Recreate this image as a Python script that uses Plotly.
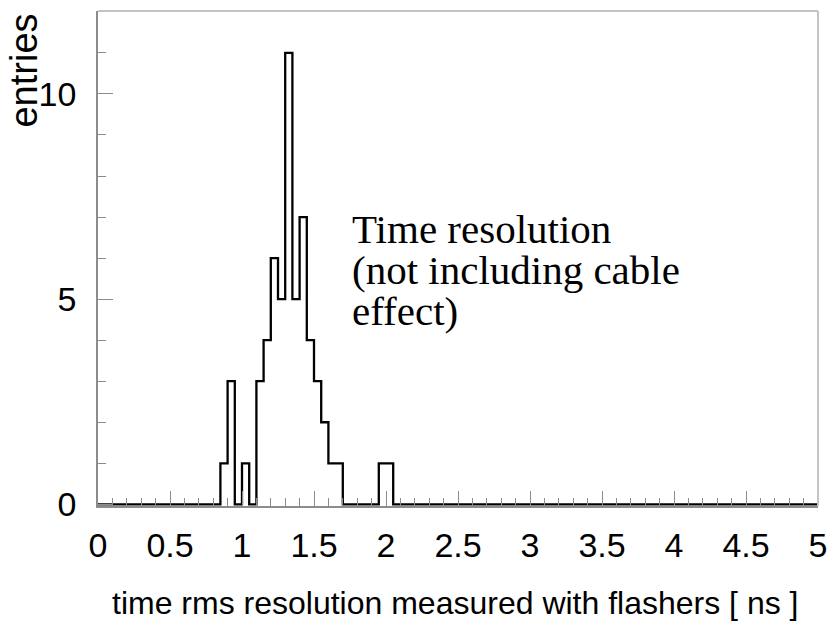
import numpy as np
import plotly.graph_objects as go

# Histogram of time rms resolution (50 ps bins from 0 to 5 ns)
bin_width = 0.05
x_min, x_max = 0.0, 5.0
bin_low = [0.85, 0.90, 0.95, 1.00, 1.05, 1.10, 1.15, 1.20, 1.25, 1.30,
           1.35, 1.40, 1.45, 1.50, 1.55, 1.60, 1.65, 1.95, 2.00]
entries = [1, 3, 0, 1, 0, 3, 4, 6, 5, 11,
           5, 7, 4, 3, 2, 1, 1, 1, 1]

x_tickvals = [0, 0.5, 1, 1.5, 2, 2.5, 3, 3.5, 4, 4.5, 5]
x_ticktext = ["0", "0.5", "1", "1.5", "2", "2.5", "3", "3.5", "4", "4.5", "5"]
y_tickvals = [0, 5, 10]
y_ticktext = ["0", "5", "10"]

x_title = "time rms resolution measured with flashers [ ns ]"
y_title = "entries"
note_lines = ["Time resolution", "(not including cable", "effect)"]

# full set of bins, zero where nothing was recorded
n_bins = int(round((x_max - x_min) / bin_width))
edges = x_min + bin_width * np.arange(n_bins + 1)
counts = np.zeros(n_bins)
for lo, c in zip(bin_low, entries):
    counts[int(round((lo - x_min) / bin_width))] = c

step_x = list(edges)
step_y = list(counts) + [counts[-1]]

# page geometry (pixels)
W, H = 838, 627
L, R, T, B = 98, 15, 11, 120.5
plot_w = W - L - R
plot_h = H - T - B


def px(xp):
    return (xp - L) / plot_w


def py(yp):
    return (H - B - yp) / plot_h


sans = "Liberation Sans, Arial, Helvetica"
serif = "Liberation Serif, Times New Roman, serif"

fig = go.Figure()
fig.add_trace(go.Scatter(
    x=step_x, y=step_y, mode="lines",
    line=dict(shape="hv", color="black", width=2.3),
    hoverinfo="skip", showlegend=False,
))

axis_grey = "#8c8c8c"
fig.update_xaxes(
    range=[x_min, x_max], showgrid=False, zeroline=False,
    showline=True, linecolor=axis_grey, linewidth=1.5,
    ticks="inside", ticklen=15, tickwidth=1.3, tickcolor=axis_grey,
    tickvals=x_tickvals, ticktext=x_ticktext,
    tickfont=dict(family=sans, size=34, color="black"),
    ticklabelstandoff=8,
    minor=dict(ticks="inside", ticklen=8, tickwidth=1.3, tickcolor=axis_grey,
               dtick=0.1, showgrid=False),
)
fig.update_yaxes(
    range=[-0.04, 12.02], showgrid=False, zeroline=False,
    showline=True, linecolor=axis_grey, linewidth=1.5,
    ticks="inside", ticklen=15, tickwidth=1.3, tickcolor=axis_grey,
    tickvals=y_tickvals, ticktext=y_ticktext,
    tickfont=dict(family=sans, size=34, color="black"),
    ticklabelstandoff=13,
    minor=dict(ticks="inside", ticklen=8, tickwidth=1.3, tickcolor=axis_grey,
               dtick=1, showgrid=False),
)

# light frame on the top and right edges
frame_grey = "#c4c4c4"
fig.add_shape(type="line", xref="paper", yref="paper", x0=0, x1=1, y0=1, y1=1,
              line=dict(color=frame_grey, width=2))
fig.add_shape(type="line", xref="paper", yref="paper", x0=1, x1=1, y0=0, y1=1,
              line=dict(color=frame_grey, width=2))

annotations = [
    dict(text=x_title, xref="paper", yref="paper", x=px(457), y=py(604),
         xanchor="center", yanchor="middle", showarrow=False,
         font=dict(family=sans, size=32, color="black")),
    dict(text=y_title, xref="paper", yref="paper", x=px(23), y=py(12),
         xanchor="center", yanchor="top", showarrow=False, textangle=-90,
         font=dict(family=sans, size=38, color="black")),
]
for line_text, mid in zip(note_lines, [229, 270, 311]):
    annotations.append(dict(
        text=line_text, xref="paper", yref="paper", x=px(352), y=py(mid),
        xanchor="left", yanchor="middle", showarrow=False,
        font=dict(family=serif, size=41, color="black")))

fig.update_layout(
    width=W, height=H,
    margin=dict(l=L, r=R, t=T, b=B, pad=0),
    paper_bgcolor="white", plot_bgcolor="white",
    annotations=annotations,
    showlegend=False,
)

fig.write_html("out.html")
